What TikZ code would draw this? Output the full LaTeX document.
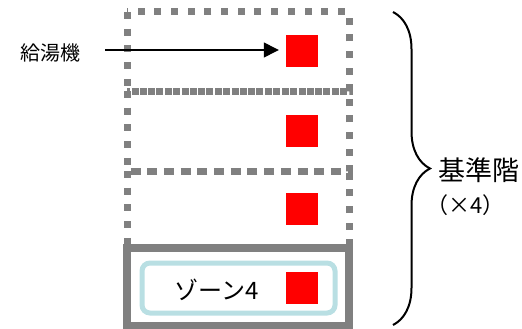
\documentclass[tikz,border=0pt]{standalone}
\usepackage{fontspec}
\setmainfont{Noto Sans CJK JP}
\usetikzlibrary{positioning}
\usetikzlibrary{arrows.meta}
\usetikzlibrary{decorations.pathreplacing}
\definecolor{wallgray}{RGB}{128,128,128}
\definecolor{zoneblue}{RGB}{185,223,227}
\tikzset{heater/.style = {fill=red, inner sep = 0, minimum size = 32}}
\tikzset{floorbox/.style = {draw=wallgray, line width=7, dash pattern=on 7pt off 9.7pt}}

\begin{document}
\begin{tikzpicture}[x=1pt,y=-1pt]
      \useasboundingbox (0,0) rectangle (522,329);

      % floors
      \draw[floorbox] (127,12) rectangle (349,91);
      \draw[floorbox] (127,91) rectangle (349,171);
      \draw[floorbox] (127,171) rectangle (349,248);
      \draw[draw=wallgray, line width=8] (127,248) rectangle (349,326);

      \node[draw=zoneblue, line width=5, rounded corners=8, minimum width=193, minimum height=50] (zone) at (238.5,288) {};
      \node[font=\fontsize{24}{24}\selectfont] (zonelabel) at (217,290) {ゾーン4};

      \node[heater] (h1) at (302,51) {};
      \node[heater] (h2) at (302,131) {};
      \node[heater] (h3) at (302,209) {};
      \node[heater] (h4) at (302,288) {};

      \node[font=\fontsize{20}{20}\selectfont] (heaterlabel) at (50,53) {給湯機};
      \coordinate (arrowstart) at (105,50);
      \draw[-{Triangle[length=15pt,width=15pt]}, line width=1.3, shorten >=7pt] (arrowstart) -- (arrowstart -| h1.west);

      \coordinate (bracetop) at (393,12);
      \coordinate (bracebottom) at (393,325);
      \draw[decorate, decoration={brace, amplitude=37pt}, line width=2] (bracetop) -- (bracebottom);
      \node[anchor=west, align=left, inner sep=0, font=\fontsize{27}{33}\selectfont] (floorlabel) at (438,187) {基準階\\{\fontsize{22}{22}\selectfont\hspace*{-0.55em}（×4）\hspace{-0.5em}}};
  \end{tikzpicture}
\end{document}
